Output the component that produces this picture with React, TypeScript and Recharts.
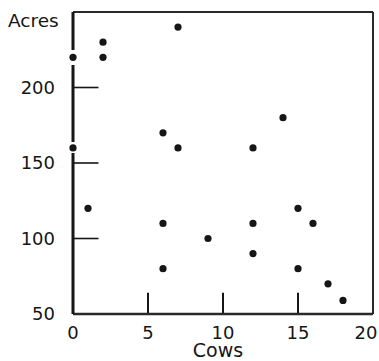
import { ScatterChart, Scatter, XAxis, YAxis, ReferenceLine } from 'recharts';

// farm survey: number of cows against acres farmed
const cows = [0, 0, 2, 2, 7, 1, 6, 7, 6, 6, 9, 12, 12, 12, 14, 15, 16, 15, 17, 18];
const acres = [220, 160, 230, 220, 240, 120, 170, 160, 110, 80, 100, 160, 110, 90, 180, 120, 110, 80, 70, 59];

const xTicks = [0, 5, 10, 15, 20];
const yTicks = [50, 100, 150, 200];

const farms = cows.map((c, i) => ({ cows: c, acres: acres[i] }));

const INK = '#161616';
const EDGE = '#2a2a2a';
const FONT = '"DejaVu Sans", sans-serif';

const Dot = (props: any) => <circle cx={props.cx} cy={props.cy} r={3.6} fill={INK} />;

const YTick = ({ x, y, payload }: any) => (
  <text x={x - 10} y={y} dy="0.36em" textAnchor="end" fill={INK} fontSize={18} fontFamily={FONT}>
    {payload.value}
  </text>
);

const XTick = ({ x, y, payload }: any) => (
  <text
    x={payload.value === 20 ? x - 5 : x}
    y={y}
    dy={17}
    textAnchor="middle"
    fill={INK}
    fontSize={18}
    fontFamily={FONT}
  >
    {payload.value}
  </text>
);

export default function App() {
  return (
    <div style={{ position: 'absolute', left: 0, top: 0, background: '#fff' }}>
      <ScatterChart width={379} height={361} margin={{ top: 12, right: 6, left: 0, bottom: 0 }}>
        <XAxis
          type="number"
          dataKey="cows"
          domain={[0, 20]}
          ticks={xTicks}
          stroke={EDGE}
          axisLine={{ strokeWidth: 2.5 }}
          tickLine={false}
          height={47}
          tick={<XTick />}
          label={({ viewBox }: any) => (
            <text x={viewBox.x + viewBox.width / 2 - 5} y={viewBox.y + 43} textAnchor="middle" fill={INK} fontSize={19} fontFamily={FONT}>
              Cows
            </text>
          )}
        />
        {/* left axis is broken where points sit on it */}
        <YAxis
          type="number"
          dataKey="acres"
          domain={[50, 250]}
          ticks={yTicks}
          stroke={INK}
          axisLine={{ strokeWidth: 3, strokeDasharray: '38 15 77 11 220' }}
          tickLine={false}
          width={73}
          tick={<YTick />}
          label={({ viewBox }: any) => (
            <text x={8} y={viewBox.y + 15} fill={INK} fontSize={18.5} fontFamily={FONT}>
              Acres
            </text>
          )}
        />

        {/* top and right edges of the box */}
        <ReferenceLine key="top" segment={[{ x: 0, y: 250 }, { x: 20, y: 250 }]} stroke={EDGE} strokeWidth={2} ifOverflow="visible" />
        <ReferenceLine key="right" segment={[{ x: 20, y: 250 }, { x: 20, y: 50 }]} stroke={EDGE} strokeWidth={2} ifOverflow="visible" />

        {/* tick marks drawn inside the frame */}
        {yTicks.slice(1).map((v) => (
          <ReferenceLine key={`y${v}`} segment={[{ x: 0, y: v }, { x: 1.7, y: v }]} stroke={INK} strokeWidth={1.6} ifOverflow="visible" />
        ))}
        {xTicks.slice(1, 4).map((v) => (
          <ReferenceLine key={`x${v}`} segment={[{ x: v, y: 50 }, { x: v, y: 64 }]} stroke={INK} strokeWidth={2} ifOverflow="visible" />
        ))}

        <Scatter data={farms} fill={INK} shape={<Dot />} isAnimationActive={false} />
      </ScatterChart>
    </div>
  );
}
